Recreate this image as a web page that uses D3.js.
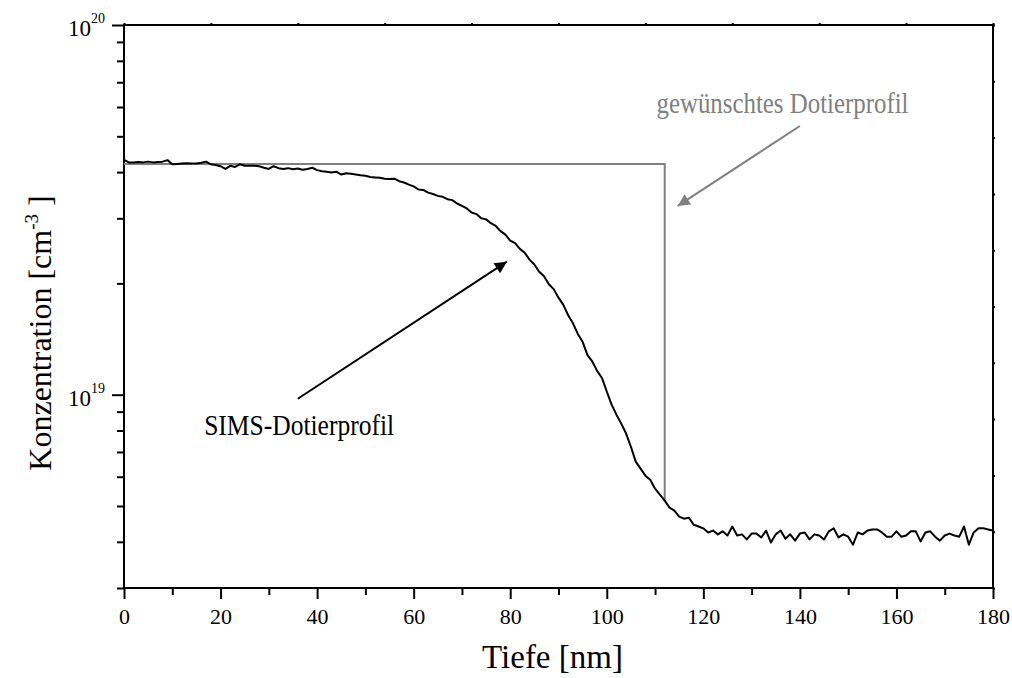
<!DOCTYPE html>
<html>
<head>
<meta charset="utf-8">
<script src="https://cdn.jsdelivr.net/npm/d3@7"></script>
<style>
  body { margin: 0; background: #fff; }
  text { font-family: "Liberation Serif", "DejaVu Serif", serif; }
</style>
</head>
<body>
<script>
// SIMS profile, one sample per nm starting at 0 nm, values in 1e18 cm^-3
var simsStep = 1;
var sims = [
  43.2, 42.5, 42.5, 42.6, 42.5, 42.7, 42.5, 42.6, 42.7, 43.1,
  42.0, 42.1, 42.2, 42.3, 42.2, 42.2, 42.4, 42.7, 42.0, 41.8,
  41.5, 40.8, 41.6, 41.3, 42.0, 41.6, 41.6, 41.6, 41.5, 41.1,
  40.8, 41.5, 41.0, 40.8, 41.0, 40.7, 40.9, 40.6, 40.8, 41.1,
  40.5, 40.2, 40.1, 39.9, 40.1, 39.4, 39.7, 39.6, 39.4, 39.2,
  39.1, 38.8, 38.7, 38.6, 38.4, 38.3, 38.4, 37.8, 37.5, 37.0,
  36.6, 35.9, 35.8, 35.2, 34.9, 34.5, 34.3, 33.8, 33.6, 32.9,
  32.4, 31.9, 31.1, 30.8, 30.0, 29.8, 29.1, 28.6, 27.7, 27.1,
  26.1, 25.7, 24.8, 24.2, 23.2, 22.5, 21.5, 20.9, 19.9, 19.3,
  18.3, 17.5, 16.4, 15.6, 14.6, 13.9, 12.8, 12.3, 11.6, 11.1,
  10.2, 9.40, 8.83, 8.35, 7.85, 7.23, 6.59, 6.31, 6.04, 5.89,
  5.57, 5.37, 5.17, 4.95, 4.86, 4.68, 4.62, 4.65, 4.45, 4.40,
  4.35, 4.24, 4.29, 4.19, 4.27, 4.16, 4.40, 4.16, 4.19, 4.06,
  4.21, 4.21, 4.11, 4.29, 3.98, 4.19, 4.29, 4.08, 4.19, 4.03,
  4.21, 4.24, 4.06, 4.19, 4.16, 4.06, 4.27, 4.35, 4.11, 4.19,
  4.13, 3.93, 4.24, 4.19, 4.29, 4.32, 4.32, 4.24, 4.13, 4.13,
  4.27, 4.13, 4.16, 4.27, 4.27, 4.01, 4.24, 4.27, 4.13, 4.03,
  4.16, 4.21, 4.16, 4.13, 4.40, 3.93, 4.24, 4.35, 4.35, 4.32,
  4.29
];

// desired (box) doping profile
var targetDepth = [0, 112, 112];
var targetConc = [4.21e19, 4.21e19, 5.15e18];

var xTicks = [0, 20, 40, 60, 80, 100, 120, 140, 160, 180];
var xMinor = [10, 30, 50, 70, 90, 110, 130, 150, 170];
var yMajor = [1e19, 1e20];
var yMinor = [3e18, 4e18, 5e18, 6e18, 7e18, 8e18, 9e18,
              2e19, 3e19, 4e19, 5e19, 6e19, 7e19, 8e19, 9e19];
var yExp = ["19", "20"];

var w = 1012, h = 678;
var margin = {top: 25, right: 19, bottom: 90, left: 124};
var width = w - margin.left - margin.right;
var height = h - margin.top - margin.bottom;

var x = d3.scaleLinear().domain([0, 180]).range([0, width]);
var y = d3.scaleLog().domain([3e18, 1e20]).range([height, 0]);

var svg = d3.select('body').append('svg')
  .attr('width', w)
  .attr('height', h);

var chart = svg.append('g')
  .attr('transform', 'translate(' + margin.left + ',' + margin.top + ')');

// tiny ticks on top and right frame (Origin style)
chart.append('g')
  .call(d3.axisTop(x).tickValues(d3.range(0, 181, 18)).tickSize(2).tickFormat(''))
  .call(function(g){ g.select('.domain').remove(); });
chart.append('g')
  .attr('transform', 'translate(' + width + ',0)')
  .call(d3.axisRight(y).tickValues(d3.range(0, 11).map(function(k){ return y.invert(height * k / 10); }))
    .tickSize(2).tickFormat(''))
  .call(function(g){ g.select('.domain').remove(); });

// frame
chart.append('rect')
  .attr('width', width).attr('height', height)
  .attr('fill', 'none').attr('stroke', '#000').attr('stroke-width', 2);

// x axis
var xAxis = chart.append('g')
  .attr('transform', 'translate(0,' + height + ')')
  .call(d3.axisBottom(x).tickValues(xTicks).tickSize(11).tickPadding(9).tickFormat(d3.format('d')));
xAxis.append('g')
  .call(d3.axisBottom(x).tickValues(xMinor).tickSize(7).tickFormat(''));
xAxis.selectAll('.domain').remove();
xAxis.selectAll('text').attr('font-size', 22).attr('fill', '#000')
  .style('font-family', '"Liberation Serif", serif');

// y axis
var yAxis = chart.append('g')
  .call(d3.axisLeft(y).tickValues(yMajor).tickSize(12).tickFormat(''));
yAxis.append('g')
  .call(d3.axisLeft(y).tickValues(yMinor).tickSize(7).tickFormat(''));
yAxis.selectAll('.domain').remove();

chart.selectAll('line').attr('stroke', '#000').attr('stroke-width', 2);

var yLab = chart.selectAll('.ylab')
  .data(yMajor)
  .enter().append('text')
  .classed('ylab', true)
  .attr('x', -19)
  .attr('y', function(d){ return y(d) + 11; })
  .attr('text-anchor', 'end')
  .attr('font-size', 23);
yLab.append('tspan').text('10');
yLab.append('tspan')
  .attr('font-size', 14)
  .attr('dy', -13)
  .text(function(d, i){ return yExp[i]; });

// desired profile (grey)
var line = d3.line()
  .x(function(d){ return x(d[0]); })
  .y(function(d){ return y(d[1]); });

chart.append('path')
  .datum(targetDepth.map(function(d, i){ return [d, targetConc[i]]; }))
  .attr('d', line)
  .attr('fill', 'none')
  .attr('stroke', '#808080')
  .attr('stroke-width', 2);

// SIMS profile (black)
chart.append('path')
  .datum(sims.map(function(d, i){ return [i * simsStep, d * 1e18]; }))
  .attr('d', line)
  .attr('fill', 'none')
  .attr('stroke', '#000')
  .attr('stroke-width', 2)
  .attr('stroke-linejoin', 'round');

// arrows
var defs = svg.append('defs');
function marker(id, col){
  defs.append('marker')
    .attr('id', id)
    .attr('viewBox', '0 0 10 10')
    .attr('refX', 10).attr('refY', 5)
    .attr('markerWidth', 9).attr('markerHeight', 6)
    .attr('markerUnits', 'strokeWidth')
    .attr('orient', 'auto')
    .append('path')
    .attr('d', 'M0,0 L10,5 L0,10 Z')
    .attr('fill', col);
}
marker('ahBlack', '#000');
marker('ahGrey', '#808080');

var arrows = [
  {from: [36, 9.75e18], to: [79.3, 2.29e19], col: '#000', id: 'ahBlack'},
  {from: [140, 5.33e19], to: [114.7, 3.24e19], col: '#808080', id: 'ahGrey'}
];
chart.selectAll('.arrow')
  .data(arrows)
  .enter().append('line')
  .classed('arrow', true)
  .attr('x1', function(d){ return x(d.from[0]); })
  .attr('y1', function(d){ return y(d.from[1]); })
  .attr('x2', function(d){ return x(d.to[0]); })
  .attr('y2', function(d){ return y(d.to[1]); })
  .attr('stroke', function(d){ return d.col; })
  .attr('stroke-width', 2)
  .attr('marker-end', function(d){ return 'url(#' + d.id + ')'; });

// annotation labels (the original is a bit narrow, so squeeze them)
chart.append('text')
  .attr('x', x(16.6)).attr('y', y(7.8e18))
  .attr('font-size', 29)
  .attr('textLength', 190).attr('lengthAdjust', 'spacingAndGlyphs')
  .text('SIMS-Dotierprofil');
chart.append('text')
  .attr('x', x(110.3)).attr('y', y(5.78e19))
  .attr('font-size', 29)
  .attr('textLength', 252).attr('lengthAdjust', 'spacingAndGlyphs')
  .attr('fill', '#808080')
  .text('gewünschtes Dotierprofil');

// axis titles
svg.append('text')
  .attr('x', margin.left + width / 2 - 6)
  .attr('y', 668)
  .attr('text-anchor', 'middle')
  .attr('font-size', 33)
  .text('Tiefe [nm]');

var yt = svg.append('text')
  .attr('transform', 'translate(51,333) rotate(-90)')
  .attr('text-anchor', 'middle')
  .attr('font-size', 32);
yt.append('tspan').text('Konzentration [cm');
yt.append('tspan').attr('font-size', 19).attr('dy', -13).text('-3');
yt.append('tspan').attr('dy', 13).text(' ]');
</script>
</body>
</html>
